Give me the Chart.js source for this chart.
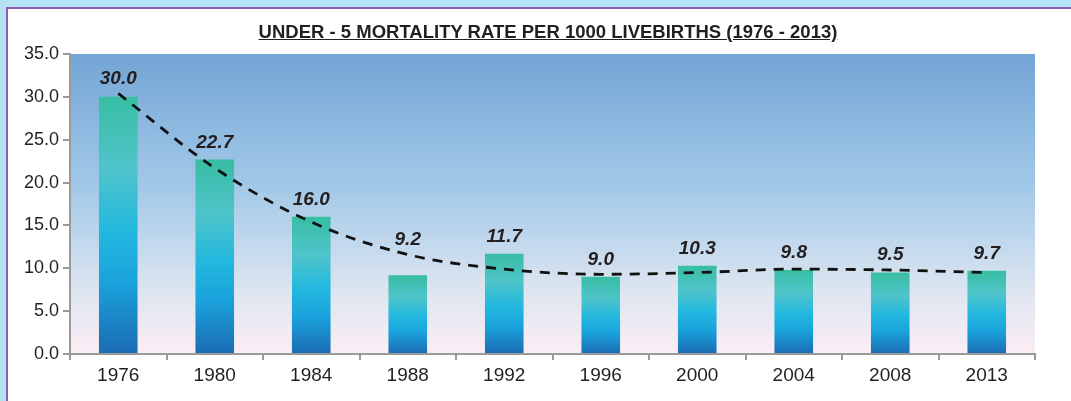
<!DOCTYPE html>
<html>
<head>
<meta charset="utf-8">
<script src="https://cdn.jsdelivr.net/npm/chart.js@4/dist/chart.umd.min.js"></script>
<style>
  html, body { margin: 0; padding: 0; overflow: hidden; }
  html { background: #b6e2f6; }
  body { width: 1071px; height: 401px; position: relative; font-family: "Liberation Sans", Arial, sans-serif; }
  #panel { position: fixed; left: 6px; top: 7px; right: -30px; bottom: -30px; background: #fff;
           border-left: 2px solid #8f5cb8; border-top: 2px solid #8f5cb8; }
  #title { position: absolute; left: 0; width: 1096px; top: 21px; text-align: center;
           font-weight: bold; font-size: 18.5px; color: #231f20; text-decoration: underline; }
  #wrap { position: absolute; left: 0; top: 0; width: 1071px; height: 401px; }
</style>
</head>
<body>
<div id="panel"></div>
<div id="title">UNDER - 5 MORTALITY RATE PER 1000 LIVEBIRTHS (1976 - 2013)</div>
<div id="wrap"><canvas id="chart" width="1071" height="401"></canvas></div>
<script>
const years = ['1976', '1980', '1984', '1988', '1992', '1996', '2000', '2004', '2008', '2013'];
const rates = [30.0, 22.7, 16.0, 9.2, 11.7, 9.0, 10.3, 9.8, 9.5, 9.7];
// trend line
const trend = [30.4, 21.7, 15.4, 11.6, 9.9, 9.3, 9.5, 9.9, 9.8, 9.5];

const FONT = '"Liberation Sans", Arial, sans-serif';

const plotBg = {
    id: 'plotBg',
    beforeDraw(chart) {
        const {ctx, chartArea: a} = chart;
        const g = ctx.createLinearGradient(0, a.top, 0, a.bottom);
        g.addColorStop(0, '#73a5d6');
        g.addColorStop(0.45, '#a3c9e8');
        g.addColorStop(0.8, '#dfe6f1');
        g.addColorStop(1, '#fcedf4');
        ctx.save();
        ctx.fillStyle = g;
        ctx.fillRect(a.left, a.top, a.right - a.left, a.bottom - a.top);
        ctx.restore();
    }
};

// value labels above bars, kept clear of the trend line
const valueLabels = {
    id: 'valueLabels',
    afterDatasetsDraw(chart) {
        const {ctx} = chart;
        const bars = chart.getDatasetMeta(0).data;
        const pts = chart.getDatasetMeta(1).data;
        ctx.save();
        ctx.font = 'italic bold 19px ' + FONT;
        ctx.fillStyle = '#231f20';
        ctx.textAlign = 'center';
        ctx.textBaseline = 'middle';
        bars.forEach((bar, i) => {
            const y = Math.min(bar.y - 17, pts[i].y - 15);
            ctx.fillText(rates[i].toFixed(1), bar.x, y);
        });
        ctx.restore();
    }
};

function barFill(c) {
    const chart = c.chart;
    if (!chart.chartArea || c.raw === undefined) return '#25b9de';
    const y = chart.scales.y;
    const top = y.getPixelForValue(c.raw), bot = y.getPixelForValue(0);
    const g = chart.ctx.createLinearGradient(0, top, 0, bot);
    g.addColorStop(0, '#38bea3');
    g.addColorStop(0.28, '#4fc4ca');
    g.addColorStop(0.52, '#23b8df');
    g.addColorStop(0.72, '#1aa3dc');
    g.addColorStop(1, '#1b6bb3');
    return g;
}

new Chart(document.getElementById('chart'), {
    data: {
        labels: years,
        datasets: [
            {
                type: 'bar',
                data: rates,
                backgroundColor: barFill,
                borderWidth: 0,
                barPercentage: 0.4,
                categoryPercentage: 1,
                order: 1
            },
            {
                type: 'line',
                data: trend,
                borderColor: '#111',
                borderWidth: 2.8,
                borderDash: [10, 8],
                pointRadius: 0,
                cubicInterpolationMode: 'monotone',
                fill: false,
                order: 0
            }
        ]
    },
    options: {
        responsive: false,
        animation: false,
        layout: {padding: {left: 6, top: 54, right: 36, bottom: 0}},
        plugins: {legend: {display: false}, tooltip: {enabled: false}, title: {display: false}},
        scales: {
            x: {
                offset: true,
                grid: {offset: true, drawOnChartArea: false, drawTicks: true, tickLength: 6, color: '#9a9a9a', lineWidth: 2},
                border: {color: '#9a9a9a', width: 2},
                ticks: {color: '#231f20', font: {size: 19, family: FONT}, padding: 4},
                afterFit(s) { s.height = 47; }
            },
            y: {
                min: 0, max: 35,
                grid: {drawOnChartArea: false, drawTicks: true, tickLength: 7, color: '#9a9a9a', lineWidth: 2},
                border: {color: '#9a9a9a', width: 2},
                ticks: {stepSize: 5, color: '#231f20', padding: 4,
                        font: {size: 18, family: FONT},
                        callback: v => v.toFixed(1)},
                afterFit(s) { s.width = 64; }
            }
        }
    },
    plugins: [plotBg, valueLabels]
});
</script>
</body>
</html>
